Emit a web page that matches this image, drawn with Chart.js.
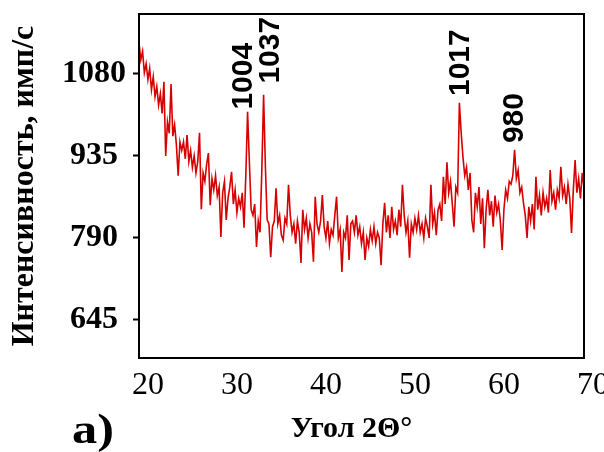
<!DOCTYPE html>
<html>
<head>
<meta charset="utf-8">
<script src="https://cdn.jsdelivr.net/npm/chart.js@4.4.0/dist/chart.umd.min.js"></script>
<style>
  html, body { margin: 0; padding: 0; background: #fff; }
  #chartContainer { width: 604px; height: 452px; }
</style>
</head>
<body>
<div id="chartContainer"><canvas id="chart" width="604" height="452"></canvas></div>
<script>
// intensity, one value every 0.2 deg from 20 to 70
const intensity = [
  1135, 1105, 1120, 1082, 1098,
  1070, 1090, 1052, 1075, 1040,
  1058, 1025, 1045, 1010, 1066,
  935, 995, 975, 1062, 970,
  990, 955, 900, 960, 945,
  960, 930, 972, 925, 945,
  915, 935, 905, 925, 976,
  841, 905, 890, 920, 940,
  848, 895, 875, 900, 865,
  880, 792, 870, 890, 822,
  860, 880, 907, 850, 875,
  835, 860, 845, 870, 808,
  900, 1013, 925, 840, 830,
  850, 774, 820, 800, 910,
  1043, 916, 822, 815, 756,
  810, 820, 878, 815, 830,
  795, 786, 825, 815, 884,
  830, 800, 815, 780, 820,
  800, 746, 840, 805, 825,
  790, 815, 800, 748, 863,
  815, 800, 820, 866, 810,
  790, 820, 780, 805, 795,
  830, 863, 790, 805, 730,
  800, 790, 830, 751, 815,
  820, 800, 830, 795, 810,
  780, 800, 751, 790, 775,
  805, 785, 810, 780, 800,
  790, 742, 815, 852, 800,
  830, 790, 845, 805, 820,
  795, 840, 810, 884, 830,
  800, 820, 755, 815, 800,
  825, 805, 830, 800, 815,
  790, 825, 810, 790, 884,
  815, 835, 795, 840, 850,
  820, 898, 850, 924, 870,
  890, 850, 810, 880, 870,
  1029, 976, 933, 900, 915,
  875, 905, 822, 800, 870,
  845, 880, 815, 860, 772,
  840, 875, 830, 855, 810,
  865, 835, 850, 820, 769,
  840, 875, 860, 890, 885,
  900, 946, 895, 910, 870,
  880, 852, 830, 790, 845,
  820, 850, 805, 898, 840,
  865, 830, 870, 845, 860,
  835, 910, 855, 870, 840,
  875, 860, 916, 865, 880,
  850, 885, 860, 799, 875,
  928, 870, 895, 860, 905,
  880
]
const angleStart = 20
const angleStep = 0.2
const angles = intensity.map((v, i) => +(angleStart + i * angleStep).toFixed(1))

const xTicks = [20, 30, 40, 50, 60, 70]
const yTicks = [645, 790, 935, 1080]

const peakLabels = ["1004", "1037", "1017", "980"]
const peakLabelAngle = [31.8, 34.8, 56.1, 62.25]
const peakLabelLevel = [1076, 1122, 1100, 1002]

const xTitle = "Угол 2Θ°"
const yTitle = "Интенсивность, имп/с"
const panelLabel = "а)"

const canvas = document.getElementById("chart")

const framePlugin = {
    id: "frame",
    afterDraw(chart) {
        const ctx = chart.ctx
        const area = chart.chartArea
        const xs = chart.scales.x
        const ys = chart.scales.y
        ctx.save()
        ctx.strokeStyle = "#000"
        ctx.lineWidth = 2
        ctx.strokeRect(area.left, area.top, area.right - area.left, area.bottom - area.top)

        // peak labels, written bottom to top
        ctx.fillStyle = "#000"
        ctx.font = "bold 30px 'Liberation Sans'"
        ctx.textAlign = "center"
        ctx.textBaseline = "middle"
        peakLabels.forEach((txt, i) => {
            ctx.save()
            ctx.translate(xs.getPixelForValue(peakLabelAngle[i]), ys.getPixelForValue(peakLabelLevel[i]))
            ctx.rotate(-Math.PI / 2)
            ctx.fillText(txt, 0, 0)
            ctx.restore()
        })

        // x axis title
        ctx.font = "bold 30px 'Liberation Serif'"
        ctx.textBaseline = "alphabetic"
        ctx.fillText(xTitle, (area.left + area.right) / 2 - 10, area.bottom + 79)

        // panel letter
        ctx.save()
        ctx.translate(72, 443)
        ctx.scale(1.2, 1)
        ctx.textAlign = "left"
        ctx.font = "bold 42px 'Liberation Serif'"
        ctx.fillText(panelLabel, 0, 0)
        ctx.restore()
        ctx.restore()
    }
}

new Chart(canvas, {
    type: "line",
    data: {
        datasets: [
            {
                data: angles.map((a, i) => ({ x: a, y: intensity[i] })),
                borderColor: "rgb(215, 0, 0)",
                borderWidth: 1.6,
                pointRadius: 0,
                tension: 0,
                fill: false
            }
        ]
    },
    options: {
        responsive: false,
        animation: false,
        layout: { padding: { top: 14, right: 20, left: 0, bottom: 0 } },
        plugins: {
            legend: { display: false },
            tooltip: { enabled: false }
        },
        scales: {
            x: {
                type: "linear",
                min: 20,
                max: 70,
                afterBuildTicks: s => { s.ticks = xTicks.map(v => ({ value: v })) },
                afterFit: s => { s.height = 94; s.paddingLeft = 0; s.paddingRight = 0 },
                grid: { display: false, drawTicks: false },
                border: { display: true, color: "#000", width: 2 },
                ticks: {
                    color: "#000",
                    font: { family: "Liberation Serif", size: 32 },
                    padding: 8,
                    labelOffset: 9,
                    maxRotation: 0,
                    autoSkip: false,
                    callback: v => String(v)
                }
            },
            y: {
                min: 577.8,
                max: 1186,
                afterBuildTicks: s => { s.ticks = yTicks.map(v => ({ value: v })) },
                afterFit: s => { s.width = 139; s.paddingTop = 0; s.paddingBottom = 0 },
                grid: { drawOnChartArea: false, tickLength: 6, tickColor: "#000", tickWidth: 2 },
                border: { display: true, color: "#000", width: 2 },
                ticks: {
                    color: "#000",
                    crossAlign: "center",
                    padding: 7,
                    font: { family: "Liberation Serif", size: 32, weight: "bold" },
                    callback: v => String(v)
                },
                title: {
                    display: true,
                    text: yTitle,
                    color: "#000",
                    font: { family: "Liberation Serif", size: 32, weight: "bold" },
                    padding: { top: 6, bottom: 0 }
                }
            }
        }
    },
    plugins: [framePlugin]
})
</script>
</body>
</html>
